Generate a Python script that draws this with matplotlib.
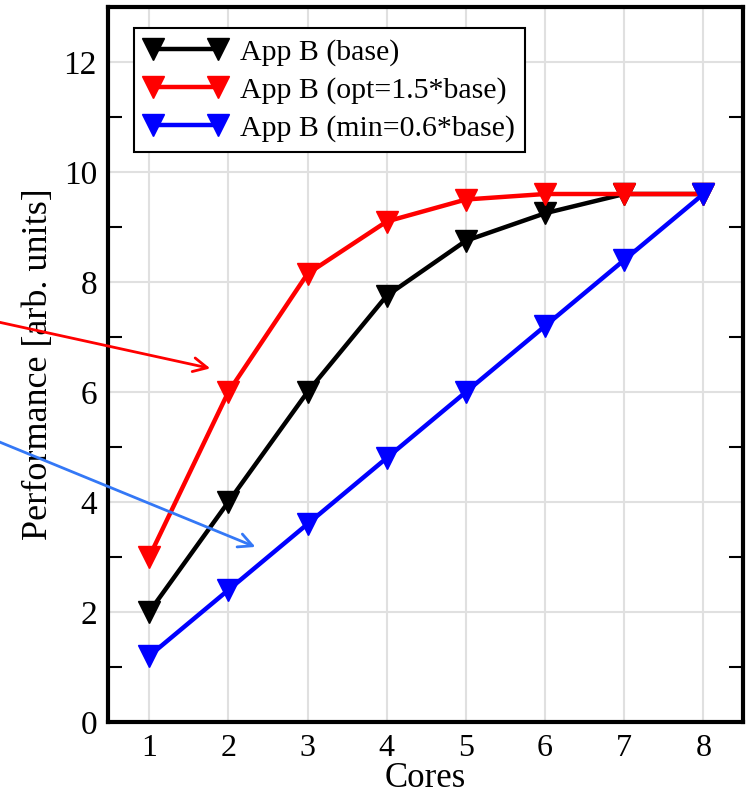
import matplotlib
matplotlib.use("Agg")
import matplotlib.pyplot as plt
from matplotlib.ticker import FixedLocator

cores = [1, 2, 3, 4, 5, 6, 7, 8]
base = [2.0, 4.0, 6.0, 7.75, 8.75, 9.25, 9.6, 9.6]
opt = [3.0, 6.0, 8.15, 9.1, 9.5, 9.6, 9.6, 9.6]
minv = [1.2, 2.4, 3.6, 4.8, 6.0, 7.2, 8.4, 9.6]
labels = ["App B (base)", "App B (opt=1.5*base)", "App B (min=0.6*base)"]
colors = ["#000000", "#ff0000", "#0000ff"]
yticks = [0, 2, 4, 6, 8, 10, 12]

plt.rcParams['font.family'] = ['Liberation Serif', 'DejaVu Serif']

fig = plt.figure(figsize=(7.47, 7.99), dpi=100)
ax = fig.add_axes([108/747, 1-722/799, 635/747, 715/799])

for ys, c, lab in zip([base, opt, minv], colors, labels):
    ax.plot(cores, ys, color=c, lw=3.2, marker='v', ms=15.5, label=lab,
            solid_joinstyle='round')

ax.set_xlim(0.48, 8.5)
ax.set_ylim(0, 13)
ax.set_xticks(cores)
ax.set_yticks(yticks)
ax.yaxis.set_minor_locator(FixedLocator([1, 3, 5, 7, 9, 11]))
ax.grid(True, which='major', color='#e0e0e0', lw=1.5)
ax.set_axisbelow(True)
ax.tick_params(axis='x', which='major', length=0, labelsize=23, pad=9)
ax.tick_params(axis='y', which='major', length=0, labelsize=24, pad=8)
ax.tick_params(axis='y', which='minor', direction='in', length=10, width=1.5,
               left=True, right=True)
for s in ax.spines.values():
    s.set_linewidth(3)

ax.set_xlabel("Cores", fontsize=25, labelpad=-1)
ax.set_ylabel("Performance [arb. units]", fontsize=26, labelpad=6)

leg = ax.legend(loc='upper left', bbox_to_anchor=((134-108)/635, (722-28)/715),
                borderaxespad=0, fontsize=21.5, numpoints=2, handlelength=2.75,
                handletextpad=0.45, borderpad=0.35, labelspacing=0.36,
                fancybox=False, framealpha=1, edgecolor='black')
leg.get_frame().set_linewidth(1.5)

ax.annotate("", xy=(213, 799-369), xycoords='figure pixels',
            xytext=(-20, 799-318), textcoords='figure pixels',
            arrowprops=dict(arrowstyle='->,head_length=1.0,head_width=0.5',
                            color='#ff0000', lw=2),
            annotation_clip=False)
ax.annotate("", xy=(258, 799-548), xycoords='figure pixels',
            xytext=(-20, 799-434), textcoords='figure pixels',
            arrowprops=dict(arrowstyle='->,head_length=1.0,head_width=0.5',
                            color='#3478f6', lw=2),
            annotation_clip=False)

fig.savefig("out.png", dpi=100)
